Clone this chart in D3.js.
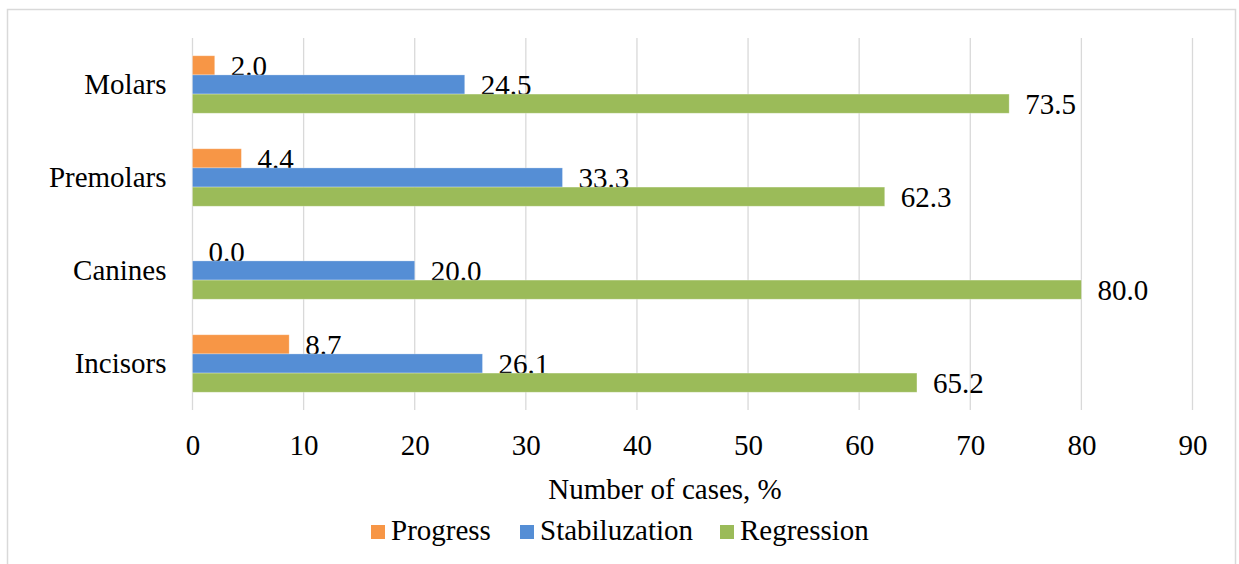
<!DOCTYPE html>
<html>
<head>
<meta charset="utf-8">
<script src="https://cdn.jsdelivr.net/npm/d3@7/dist/d3.min.js"></script>
<style>
  html, body { margin: 0; padding: 0; background: #fff; }
</style>
</head>
<body>
<svg id="chart" width="1239" height="564"></svg>
<script>
// Teeth groups, top to bottom
const categories = ["Molars", "Premolars", "Canines", "Incisors"];
const seriesNames = ["Progress", "Stabiluzation", "Regression"];
const seriesColors = ["#f79646", "#558ed5", "#9bbb59"];
// Values per category (same order as categories)
const progress = [2.0, 4.4, 0.0, 8.7];
const stabilization = [24.5, 33.3, 20.0, 26.1];
const regression = [73.5, 62.3, 80.0, 65.2];
const xTicks = [0, 10, 20, 30, 40, 50, 60, 70, 80, 90];
const xTitle = "Number of cases, %";

const series = [progress, stabilization, regression];
const fontSize = 29;
const fontFamily = '"Liberation Serif"';

const svg = d3.select("#chart");

// Outer frame
svg.append("rect")
  .attr("x", 7.5).attr("y", 9.5)
  .attr("width", 1228).attr("height", 600)
  .attr("fill", "none").attr("stroke", "#d9d9d9").attr("stroke-width", 1.5);

const plot = { left: 192.5, right: 1192.5, top: 38, bottom: 410 };

const x = d3.scaleLinear().domain([0, 90]).range([plot.left, plot.right]);
const y = d3.scaleBand().domain(categories).range([plot.top, plot.bottom])
  .paddingInner(0.382).paddingOuter(0.191);
const ySub = d3.scaleBand().domain(d3.range(seriesNames.length)).range([0, y.bandwidth()]);

// Vertical gridlines
svg.append("g").selectAll("line").data(xTicks).join("line")
  .attr("x1", d => x(d)).attr("x2", d => x(d))
  .attr("y1", plot.top).attr("y2", plot.bottom)
  .attr("stroke", "#d9d9d9").attr("stroke-width", 1.3);

// X tick labels
const xAxis = d3.axisBottom(x).tickValues(xTicks).tickSize(0).tickPadding(0).tickFormat(d3.format("d"));
const gx = svg.append("g").attr("transform", `translate(0,${plot.bottom})`).call(xAxis)
  .attr("font-family", fontFamily).attr("font-size", fontSize);
gx.select(".domain").remove();
gx.selectAll("text")
  .attr("y", 45).attr("dy", null)
  .attr("font-family", fontFamily).attr("font-size", fontSize)
  .attr("fill", "#000");

// Category labels
const yAxis = d3.axisLeft(y).tickSize(0).tickPadding(0);
const gy = svg.append("g").attr("transform", `translate(${plot.left - 26},0)`).call(yAxis)
  .attr("font-family", fontFamily).attr("font-size", fontSize);
gy.select(".domain").remove();
gy.selectAll("text")
  .attr("x", 0).attr("dy", "0.33em")
  .attr("font-family", fontFamily).attr("font-size", fontSize)
  .attr("fill", "#000");

// Bars and value labels
series.forEach((vals, si) => {
  const g = svg.append("g");
  g.selectAll("rect").data(vals).join("rect")
    .attr("x", x(0))
    .attr("y", (d, i) => y(categories[i]) + ySub(si))
    .attr("width", d => x(d) - x(0))
    .attr("height", ySub.bandwidth())
    .attr("fill", seriesColors[si])
    .attr("stroke", "#ffffff").attr("stroke-opacity", 0.35).attr("stroke-width", 0.8);
  g.selectAll("text").data(vals).join("text")
    .attr("x", d => x(d) + 16)
    .attr("y", (d, i) => y(categories[i]) + ySub(si) + ySub.bandwidth() / 2)
    .attr("dy", "0.36em")
    .attr("font-family", fontFamily).attr("font-size", fontSize)
    .attr("fill", "#000")
    .text(d => d.toFixed(1));
});

// Axis title
svg.append("text")
  .attr("x", 665).attr("y", 499)
  .attr("text-anchor", "middle")
  .attr("font-family", fontFamily).attr("font-size", fontSize)
  .attr("fill", "#000")
  .text(xTitle);

// Legend
const legendX = [371, 520, 720];
const legend = svg.append("g");
seriesNames.forEach((name, i) => {
  legend.append("rect")
    .attr("x", legendX[i]).attr("y", 525)
    .attr("width", 14).attr("height", 14)
    .attr("fill", seriesColors[i]);
  legend.append("text")
    .attr("x", legendX[i] + 20).attr("y", 540)
    .attr("font-family", fontFamily).attr("font-size", fontSize)
    .attr("fill", "#000")
    .text(name);
});
</script>
</body>
</html>
